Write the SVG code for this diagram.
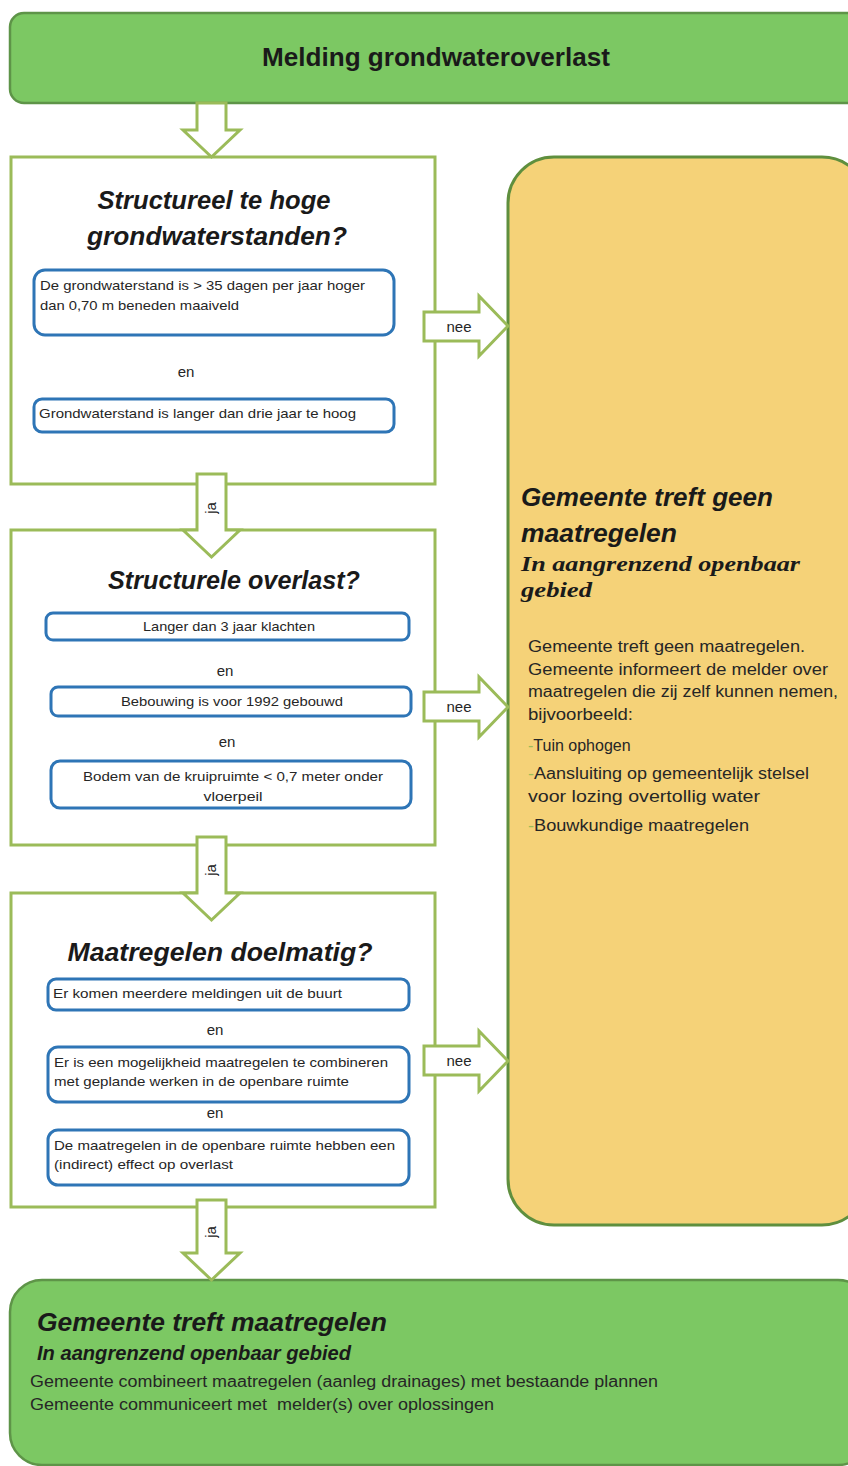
<svg xmlns="http://www.w3.org/2000/svg" width="848" height="1466" viewBox="0 0 848 1466">
<style>
text{font-family:"Liberation Sans",Arial,sans-serif;fill:#1a1a1a}
.frame{fill:#ffffff;stroke:#9bbb59;stroke-width:3}
.crit{fill:#ffffff;stroke:#2e75b6;stroke-width:3}
.green{fill:#7cc863;stroke:#5e9448;stroke-width:2.5}
.yellow{fill:#f5d278;stroke:#5f8f3e;stroke-width:3}
.arrow{fill:#ffffff;stroke:#9bbb59;stroke-width:3;stroke-linejoin:miter}
.title{font-weight:bold;font-style:italic;font-size:25px}
.small{font-size:13px;fill:#262626}
.en{font-size:15px;fill:#262626}
.lbl{font-size:15px;fill:#262626}
.body{font-size:16px;fill:#262626}
.serif{font-family:"Liberation Serif","Times New Roman",serif;font-weight:bold;font-style:italic;font-size:21px}
.dash{fill:#9bbb59}
</style>

<g id="start">
<rect class="green" x="10" y="13" width="860" height="90" rx="14"/>
<text x="436" y="66" text-anchor="middle" font-weight="bold" font-size="25" textLength="348" lengthAdjust="spacingAndGlyphs">Melding grondwateroverlast</text>
</g>

<g id="q1">
<rect class="frame" x="11" y="157" width="424" height="327"/>
<text class="title" x="214" y="209" text-anchor="middle" textLength="233" lengthAdjust="spacingAndGlyphs">Structureel te hoge</text>
<text class="title" x="217" y="245" text-anchor="middle" textLength="260" lengthAdjust="spacingAndGlyphs">grondwaterstanden?</text>
<rect class="crit" x="34" y="270" width="360" height="65" rx="11"/>
<text class="small" x="40" y="290" textLength="325" lengthAdjust="spacingAndGlyphs">De grondwaterstand is &gt; 35 dagen per jaar hoger</text>
<text class="small" x="40" y="310" textLength="199" lengthAdjust="spacingAndGlyphs">dan 0,70 m beneden maaiveld</text>
<text class="en" x="186" y="377" text-anchor="middle">en</text>
<rect class="crit" x="34" y="399" width="360" height="33" rx="8"/>
<text class="small" x="39" y="418" textLength="317" lengthAdjust="spacingAndGlyphs">Grondwaterstand is langer dan drie jaar te hoog</text>
</g>

<g id="q2">
<rect class="frame" x="11" y="530" width="424" height="315"/>
<text class="title" x="234" y="589" text-anchor="middle" textLength="252" lengthAdjust="spacingAndGlyphs">Structurele overlast?</text>
<rect class="crit" x="46" y="613" width="363" height="27" rx="7"/>
<text class="small" x="229" y="631" text-anchor="middle" textLength="172" lengthAdjust="spacingAndGlyphs">Langer dan 3 jaar klachten</text>
<text class="en" x="225" y="676" text-anchor="middle">en</text>
<rect class="crit" x="51" y="687" width="360" height="29" rx="7"/>
<text class="small" x="232" y="706" text-anchor="middle" textLength="222" lengthAdjust="spacingAndGlyphs">Bebouwing is voor 1992 gebouwd</text>
<text class="en" x="227" y="747" text-anchor="middle">en</text>
<rect class="crit" x="51" y="761" width="360" height="47" rx="9"/>
<text class="small" x="233" y="781" text-anchor="middle" textLength="300" lengthAdjust="spacingAndGlyphs">Bodem van de kruipruimte &lt; 0,7 meter onder</text>
<text class="small" x="233" y="801" text-anchor="middle" textLength="59" lengthAdjust="spacingAndGlyphs">vloerpeil</text>
</g>

<g id="q3">
<rect class="frame" x="11" y="893" width="424" height="314"/>
<text class="title" x="220" y="961" text-anchor="middle" textLength="305" lengthAdjust="spacingAndGlyphs">Maatregelen doelmatig?</text>
<rect class="crit" x="48" y="979" width="361" height="31" rx="8"/>
<text class="small" x="53" y="998" textLength="289" lengthAdjust="spacingAndGlyphs">Er komen meerdere meldingen uit de buurt</text>
<text class="en" x="215" y="1035" text-anchor="middle">en</text>
<rect class="crit" x="48" y="1047" width="361" height="55" rx="10"/>
<text class="small" x="54" y="1067" textLength="334" lengthAdjust="spacingAndGlyphs">Er is een mogelijkheid maatregelen te combineren</text>
<text class="small" x="54" y="1086" textLength="295" lengthAdjust="spacingAndGlyphs">met geplande werken in de openbare ruimte</text>
<text class="en" x="215" y="1118" text-anchor="middle">en</text>
<rect class="crit" x="48" y="1130" width="361" height="55" rx="10"/>
<text class="small" x="54" y="1150" textLength="341" lengthAdjust="spacingAndGlyphs">De maatregelen in de openbare ruimte hebben een</text>
<text class="small" x="54" y="1169" textLength="179" lengthAdjust="spacingAndGlyphs">(indirect) effect op overlast</text>
</g>

<g id="no-measures">
<rect class="yellow" x="508" y="157" width="360" height="1068" rx="46"/>
<text class="title" x="521" y="506" textLength="252" lengthAdjust="spacingAndGlyphs">Gemeente treft geen</text>
<text class="title" x="521" y="542" textLength="156" lengthAdjust="spacingAndGlyphs">maatregelen</text>
<text class="serif" x="521" y="571" textLength="279" lengthAdjust="spacingAndGlyphs">In aangrenzend openbaar</text>
<text class="serif" x="521" y="597" textLength="71" lengthAdjust="spacingAndGlyphs">gebied</text>
<text class="body" x="528" y="652" textLength="277" lengthAdjust="spacingAndGlyphs">Gemeente treft geen maatregelen.</text>
<text class="body" x="528" y="675" textLength="300" lengthAdjust="spacingAndGlyphs">Gemeente informeert de melder over</text>
<text class="body" x="528" y="697" textLength="310" lengthAdjust="spacingAndGlyphs">maatregelen die zij zelf kunnen nemen,</text>
<text class="body" x="528" y="720" textLength="105" lengthAdjust="spacingAndGlyphs">bijvoorbeeld:</text>
<text class="body" x="528" y="751"><tspan class="dash">-</tspan>Tuin ophogen</text>
<text class="body" x="528" y="779" textLength="281" lengthAdjust="spacingAndGlyphs"><tspan class="dash">-</tspan>Aansluiting op gemeentelijk stelsel</text>
<text class="body" x="528" y="802" textLength="232" lengthAdjust="spacingAndGlyphs">voor lozing overtollig water</text>
<text class="body" x="528" y="831" textLength="221" lengthAdjust="spacingAndGlyphs"><tspan class="dash">-</tspan>Bouwkundige maatregelen</text>
</g>

<g id="measures">
<rect class="green" x="10" y="1280" width="860" height="185" rx="32"/>
<text class="title" x="37" y="1331" textLength="350" lengthAdjust="spacingAndGlyphs">Gemeente treft maatregelen</text>
<text x="37" y="1360" font-weight="bold" font-style="italic" font-size="20" textLength="314" lengthAdjust="spacingAndGlyphs">In aangrenzend openbaar gebied</text>
<text class="body" x="30" y="1387" font-size="17" textLength="628" lengthAdjust="spacingAndGlyphs">Gemeente combineert maatregelen (aanleg drainages) met bestaande plannen</text>
<text class="body" x="30" y="1410" font-size="17" textLength="464" lengthAdjust="spacingAndGlyphs" xml:space="preserve">Gemeente communiceert met  melder(s) over oplossingen</text>
</g>

<g id="connectors">
<polygon class="arrow" points="197,103 226,103 226,130 240,130 211.5,157 183,130 197,130"/>
<polygon class="arrow" points="197,474 226,474 226,530 240,530 211.5,557 183,530 197,530"/>
<polygon class="arrow" points="197,837 226,837 226,893 240,893 211.5,920 183,893 197,893"/>
<polygon class="arrow" points="197,1200 226,1200 226,1253 240,1253 211.5,1280 183,1253 197,1253"/>
<text class="lbl" transform="translate(216,508) rotate(-90)" text-anchor="middle">ja</text>
<text class="lbl" transform="translate(216,870) rotate(-90)" text-anchor="middle">ja</text>
<text class="lbl" transform="translate(216,1232) rotate(-90)" text-anchor="middle">ja</text>
<polygon class="arrow" points="424,312 479,312 479,296 508,326 479,356 479,341 424,341"/>
<polygon class="arrow" points="424,692 479,692 479,677 508,707 479,737 479,721 424,721"/>
<polygon class="arrow" points="424,1046 479,1046 479,1031 508,1061 479,1091 479,1075 424,1075"/>
<text class="lbl" x="459" y="332" text-anchor="middle">nee</text>
<text class="lbl" x="459" y="712" text-anchor="middle">nee</text>
<text class="lbl" x="459" y="1066" text-anchor="middle">nee</text>
</g>
</svg>
